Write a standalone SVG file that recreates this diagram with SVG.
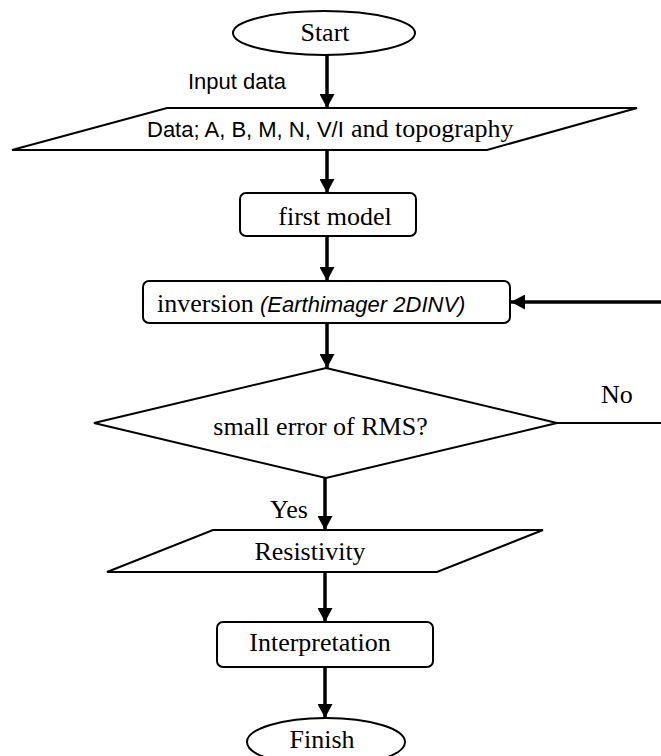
<svg xmlns="http://www.w3.org/2000/svg" width="661" height="756" viewBox="0 0 661 756">
<style>
.shape{fill:#fff;stroke:#000;stroke-width:2}
.conn{fill:none;stroke:#000;stroke-width:3.5}
.serif{font-family:"Liberation Serif","Times New Roman",serif;font-size:26px;fill:#000}
.sans{font-family:"Liberation Sans",Arial,sans-serif;font-size:22px;fill:#000}
.mid{text-anchor:middle}
</style>
<defs>
<marker id="arr" viewBox="0 0 14 15" refX="14" refY="7.5" markerWidth="14" markerHeight="15" markerUnits="userSpaceOnUse" orient="auto">
<path d="M0,0 L14,7.5 L0,15 z" fill="#000"/>
</marker>
</defs>
<rect width="661" height="756" fill="#fff"/>
<g id="connectors">
<line class="conn" x1="327" y1="55" x2="327" y2="108" marker-end="url(#arr)"/>
<line class="conn" x1="327" y1="150" x2="327" y2="193" marker-end="url(#arr)"/>
<line class="conn" x1="327" y1="236" x2="327" y2="281" marker-end="url(#arr)"/>
<line class="conn" x1="327" y1="323" x2="327" y2="368" marker-end="url(#arr)"/>
<line class="conn" x1="661" y1="302" x2="511" y2="302" marker-end="url(#arr)"/>
<line x1="557" y1="423" x2="661" y2="423" stroke="#000" stroke-width="2"/>
<line class="conn" x1="325" y1="478" x2="325" y2="530" marker-end="url(#arr)"/>
<line class="conn" x1="325" y1="572" x2="325" y2="622" marker-end="url(#arr)"/>
<line class="conn" x1="325" y1="667" x2="325" y2="718" marker-end="url(#arr)"/>
<text class="sans" x="188" y="89">Input data</text>
<text class="serif" x="601" y="403">No</text>
<text class="serif" x="270" y="518">Yes</text>
</g>
<g id="start">
<ellipse class="shape" cx="324" cy="33" rx="91" ry="22"/>
<text class="serif mid" x="325" y="41">Start</text>
</g>
<g id="data">
<polygon class="shape" points="167,108 637,108 487,150 12,150"/>
<text y="137"><tspan class="sans" x="147">Data; A, B, M, N, V/I</tspan><tspan class="serif" x="351">and topography</tspan></text>
</g>
<g id="first-model">
<rect class="shape" x="240" y="193" width="176" height="43" rx="6"/>
<text class="serif mid" x="335" y="225">first model</text>
</g>
<g id="inversion">
<rect class="shape" x="143" y="281" width="367" height="42" rx="6"/>
<text y="312"><tspan class="serif" x="157">inversion</tspan><tspan class="sans" x="260" font-style="italic">(Earthimager 2DINV)</tspan></text>
</g>
<g id="rms">
<polygon class="shape" points="326,368 557,423 326,478 94,423"/>
<text class="serif mid" x="320.5" y="435">small error of RMS?</text>
</g>
<g id="resistivity">
<polygon class="shape" points="213,530 543,530 437,572 107,572"/>
<text class="serif mid" x="310" y="560" font-size="27">Resistivity</text>
</g>
<g id="interpretation">
<rect class="shape" x="217" y="622" width="216" height="45" rx="6"/>
<text class="serif mid" x="320" y="651" font-size="27">Interpretation</text>
</g>
<g id="finish">
<ellipse class="shape" cx="326" cy="742" rx="79" ry="24"/>
<text class="serif mid" x="322" y="748">Finish</text>
</g>
</svg>
